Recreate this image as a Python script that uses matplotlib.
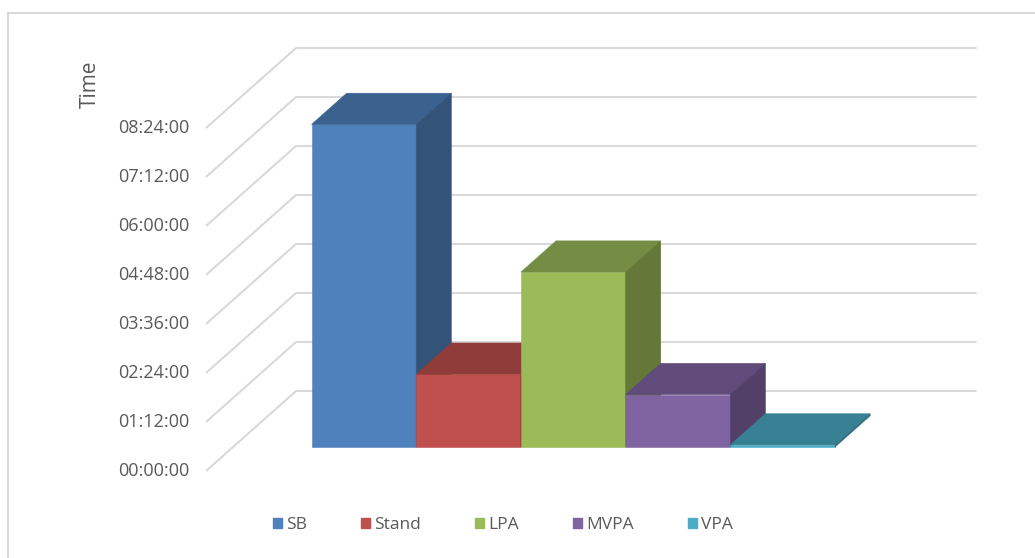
import matplotlib
matplotlib.use('Agg')
import matplotlib.pyplot as plt
from matplotlib.patches import Polygon, Patch
from matplotlib.lines import Line2D
from matplotlib.colors import to_rgb

# data (minutes per day)
series = ['SB', 'Stand', 'LPA', 'MVPA', 'VPA']
minutes = [474, 107, 257, 77, 3]
colors = ['#4F81BD', '#C0504D', '#9BBB59', '#8064A2', '#4BACC6']
tick_minutes = [0, 72, 144, 216, 288, 360, 432, 504]
tick_labels = ['00:00:00', '01:12:00', '02:24:00', '03:36:00',
               '04:48:00', '06:00:00', '07:12:00', '08:24:00']

plt.rcParams['font.family'] = ['Open Sans', 'DejaVu Sans']

W, H = 1035, 558
fig = plt.figure(figsize=(W / 100, H / 100), dpi=100)

# pixel scales of the oblique 3d look
px_x = 104.7           # pixels per bar width
px_min = 49 / 72.0     # pixels per minute
DX = 90 / px_x         # full depth shift in x units
DY = 80 / px_min       # full depth shift in minutes
floor_w = 6.5
d0, d1 = 0.3, 0.69

ox, oy = 206, H - 471
aw, ah = 800, 440
ax = fig.add_axes([ox / W, oy / H, aw / W, ah / H])
ax.set_xlim(0, aw / px_x)
ax.set_ylim(0, ah / px_min)
ax.axis('off')


def proj(x, v, d):
    return (x + d * DX, v + d * DY)


grid_c = '#d9d9d9'
for v, lab in zip(tick_minutes, tick_labels):
    pts = [proj(0, v, 0), proj(0, v, 1), proj(floor_w, v, 1)]
    ax.plot([p[0] for p in pts], [p[1] for p in pts], color=grid_c,
            lw=1.5, clip_on=False, zorder=1, solid_capstyle='butt')
    ax.annotate(lab, xy=(0, v), xytext=(-12, 0), textcoords='offset points',
                ha='right', va='center', fontsize=13, color='#595959',
                annotation_clip=False)


def shade(c, f):
    r, g, b = to_rgb(c)
    return (r * f, g * f, b * f)


for i, (v, c) in enumerate(zip(minutes, colors)):
    x0 = 0.75 + i
    x1 = x0 + 1
    front = [proj(x0, 0, d0), proj(x1, 0, d0), proj(x1, v, d0), proj(x0, v, d0)]
    top = [proj(x0, v, d0), proj(x1, v, d0), proj(x1, v, d1), proj(x0, v, d1)]
    side = [proj(x1, 0, d0), proj(x1, 0, d1), proj(x1, v, d1), proj(x1, v, d0)]
    for poly, f in ((front, 1.0), (top, 0.75), (side, 0.64)):
        ax.add_patch(Polygon(poly, closed=True, facecolor=shade(c, f),
                             edgecolor=shade(c, f), lw=0.4, clip_on=False,
                             zorder=2 + i))

fig.text(90 / W, 1 - 84 / H, 'Time', rotation=90, ha='center', va='center',
         fontsize=15, color='#595959')

handles = [Patch(facecolor=c, edgecolor=c) for c in colors]
fig.legend(handles, series, loc='center', bbox_to_anchor=(503 / W, 1 - 525 / H),
           ncol=5, frameon=False, fontsize=12.5, labelcolor='#595959',
           handlelength=0.52, handleheight=0.52, handletextpad=0.25,
           columnspacing=3.1)

# outer chart frame (top and left edges visible)
fig.add_artist(Line2D([8 / W, 1], [1 - 13 / H, 1 - 13 / H], color=grid_c,
                      lw=1.5, transform=fig.transFigure))
fig.add_artist(Line2D([8 / W, 8 / W], [0, 1 - 13 / H], color=grid_c,
                      lw=1.5, transform=fig.transFigure))

fig.savefig('out.png', dpi=100)
